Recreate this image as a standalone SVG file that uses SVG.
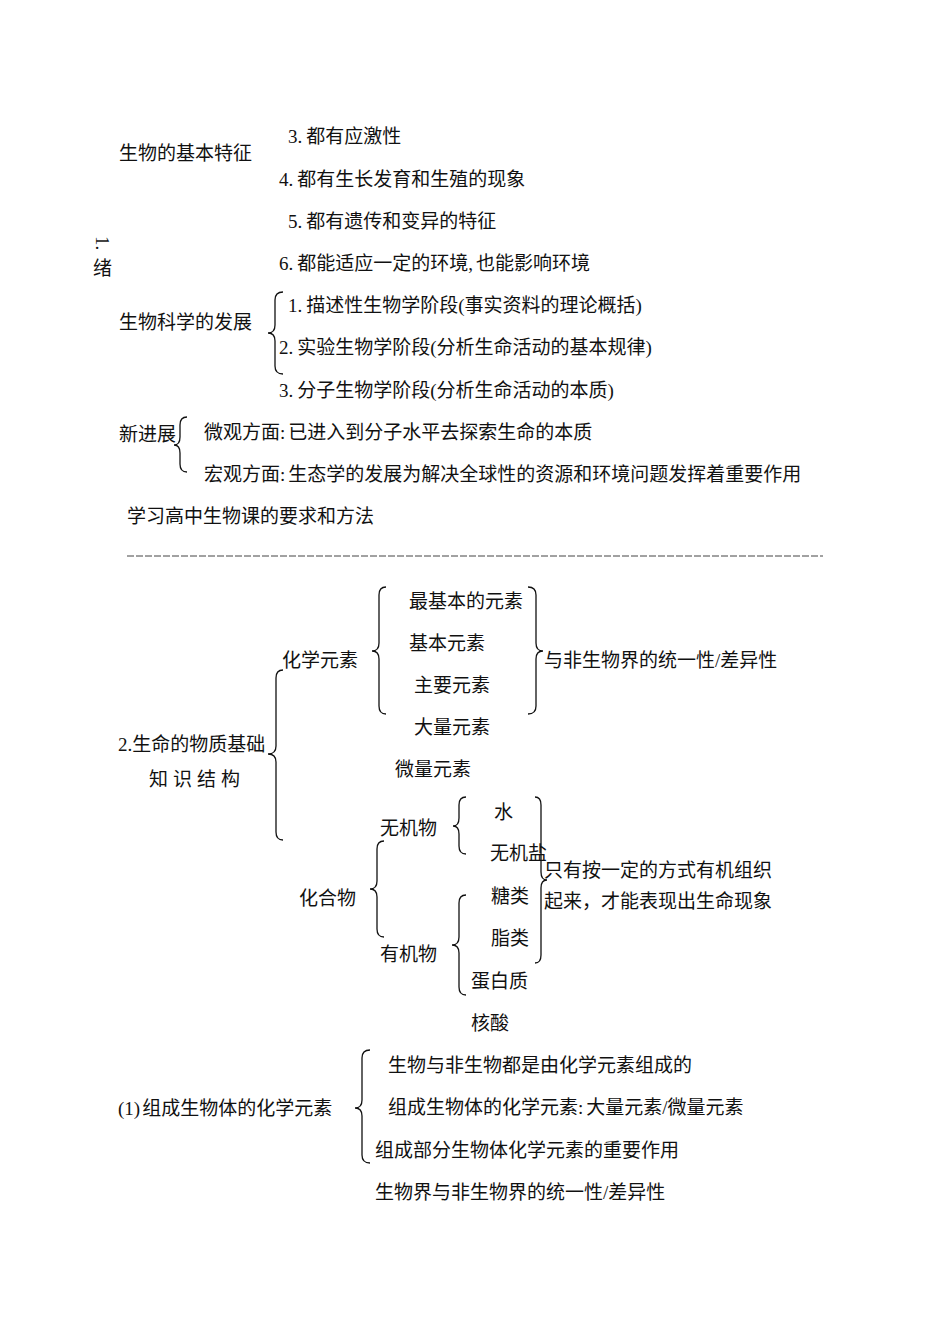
<svg xmlns="http://www.w3.org/2000/svg" width="950" height="1342" viewBox="0 0 950 1342">
<style>
text{font-family:"Liberation Serif","Noto Sans CJK SC",serif;font-size:19px;fill:#111;}
.br{fill:none;stroke:#111;stroke-width:1.3;}
.dash{stroke:#444;stroke-width:1;stroke-dasharray:7 2;}
</style>
<rect width="950" height="1342" fill="#fff"/>
<g id="sec1">
<text x="119" y="160">生物的基本特征</text>
<text x="288" y="143">3.<tspan dx="4">都有应激性</tspan></text>
<text x="279" y="186">4.<tspan dx="4">都有生长发育和生殖的现象</tspan></text>
<text x="288" y="228">5.<tspan dx="4">都有遗传和变异的特征</tspan></text>
<text x="279" y="270">6.<tspan dx="4">都能适应一定的环境,</tspan><tspan dx="3">也能影响环境</tspan></text>
<text transform="translate(96,236) rotate(90)">1.</text>
<text x="93" y="275">绪</text>
</g>
<g id="dev">
<text x="119" y="329">生物科学的发展</text>
<text x="288" y="312">1.<tspan dx="4">描述性生物学阶段(事实资料的理论概括)</tspan></text>
<text x="279" y="354">2.<tspan dx="4">实验生物学阶段(分析生命活动的基本规律)</tspan></text>
<text x="279" y="397">3.<tspan dx="4">分子生物学阶段(分析生命活动的本质)</tspan></text>
</g>
<g id="new">
<text x="119" y="441">新进展</text>
<text x="204" y="439">微观方面:<tspan dx="3">已进入到分子水平去探索生命的本质</tspan></text>
<text x="204" y="481">宏观方面:<tspan dx="3">生态学的发展为解决全球性的资源和环境问题发挥着重要作用</tspan></text>
<text x="127" y="523">学习高中生物课的要求和方法</text>
<line class="dash" x1="127" y1="556" x2="823" y2="556"/>
</g>
<g id="sec2">
<text x="118" y="751">2.生命的物质基础</text>
<text x="149" y="786" letter-spacing="5">知识结构</text>
<text x="282" y="667">化学元素</text>
<text x="409" y="608">最基本的元素</text>
<text x="409" y="650">基本元素</text>
<text x="414" y="692">主要元素</text>
<text x="414" y="734">大量元素</text>
<text x="395" y="776">微量元素</text>
<text x="544" y="667">与非生物界的统一性/差异性</text>
<text x="299" y="905">化合物</text>
<text x="380" y="835">无机物</text>
<text x="380" y="961">有机物</text>
<text x="494" y="819">水</text>
<text x="490" y="860">无机盐</text>
<text x="491" y="903">糖类</text>
<text x="491" y="945">脂类</text>
<text x="471" y="988">蛋白质</text>
<text x="471" y="1030">核酸</text>
<text x="544" y="877">只有按一定的方式有机组织</text>
<text x="544" y="908">起来，才能表现出生命现象</text>
</g>
<g id="sec3">
<text x="118" y="1115">(1)<tspan dx="2">组成生物体的化学元素</tspan></text>
<text x="388" y="1072">生物与非生物都是由化学元素组成的</text>
<text x="388" y="1114">组成生物体的化学元素:<tspan dx="3">大量元素/微量元素</tspan></text>
<text x="375" y="1157">组成部分生物体化学元素的重要作用</text>
<text x="375" y="1199">生物界与非生物界的统一性/差异性</text>
</g>
<g id="connectors">
<path class="br" d="M283,292 Q275,292 275,300 L275,325 Q275,333 268,333 Q275,333 275,341 L275,366 Q275,374 283,374"/>
<path class="br" d="M187,417 Q180,417 180,425 L180,437 Q180,445 174,445 Q180,445 180,453 L180,464 Q180,472 187,472"/>
<path class="br" d="M386,587 Q379,587 379,595 L379,643 Q379,651 372,651 Q379,651 379,659 L379,706 Q379,714 386,714"/>
<path class="br" d="M528,587 Q536,587 536,595 L536,643 Q536,651 543,651 Q536,651 536,659 L536,706 Q536,714 528,714"/>
<path class="br" d="M283,670 Q276,670 276,678 L276,746 Q276,754 268,754 Q276,754 276,762 L276,832 Q276,840 283,840"/>
<path class="br" d="M466,797 Q459,797 459,805 L459,818 Q459,826 453,826 Q459,826 459,834 L459,846 Q459,854 466,854"/>
<path class="br" d="M384,841 Q377,841 377,849 L377,881 Q377,889 370,889 Q377,889 377,897 L377,929 Q377,937 384,937"/>
<path class="br" d="M535,797 Q541,797 541,805 L541,872 Q541,880 547,880 Q541,880 541,888 L541,955 Q541,963 535,963"/>
<path class="br" d="M466,895 Q459,895 459,903 L459,937 Q459,945 452,945 Q459,945 459,953 L459,987 Q459,995 466,995"/>
<path class="br" d="M370,1050 Q362,1050 362,1058 L362,1100 Q362,1108 355,1108 Q362,1108 362,1116 L362,1155 Q362,1163 370,1163"/>
</g>
</svg>
